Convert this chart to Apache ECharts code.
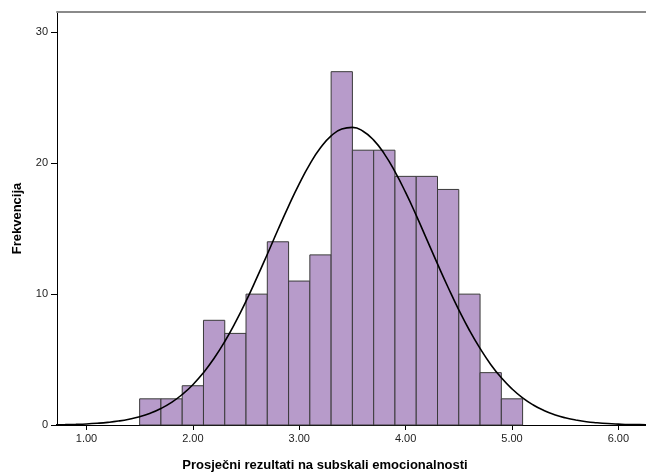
<!DOCTYPE html>
<html><head><meta charset="utf-8">
<script src="https://cdn.jsdelivr.net/npm/echarts@6/dist/echarts.min.js"></script>
<style>html,body{margin:0;padding:0;background:#fff}#c{width:646px;height:474px}</style>
</head><body><div id="c"></div>
<script>
// Histogram bins (left edges, width 0.2) and frequencies
const binStarts = [1.5,1.7,1.9,2.1,2.3,2.5,2.7,2.9,3.1,3.3,3.5,3.7,3.9,4.1,4.3,4.5,4.7,4.9];
const binWidth = 0.2;
const counts = [2,2,3,8,7,10,14,11,13,27,21,21,19,19,18,10,4,2];
// Normal curve (x, frequency)
const curveX = [0.7,0.8,0.9,1.0,1.1,1.2,1.3,1.4,1.5,1.6,1.7,1.8,1.9,2.0,2.1,2.2,2.3,2.4,2.5,2.6,2.7,2.8,2.9,3.0,3.1,3.2,3.3,3.4,3.5,3.6,3.7,3.8,3.9,4.0,4.1,4.2,4.3,4.4,4.5,4.6,4.7,4.8,4.9,5.0,5.1,5.2,5.3,5.4,5.5,5.6,5.7,5.8,5.9,6.0,6.1,6.2,6.3];
const curveY = [0.02,0.03,0.05,0.08,0.13,0.20,0.30,0.44,0.63,0.90,1.26,1.73,2.33,3.08,4.00,5.10,6.38,7.84,9.46,11.22,13.05,14.92,16.73,18.43,19.94,21.18,22.09,22.62,22.74,22.45,21.77,20.72,19.36,17.77,16.02,14.17,12.31,10.51,8.80,7.24,5.85,4.63,3.61,2.76,2.07,1.53,1.11,0.79,0.55,0.38,0.25,0.17,0.11,0.07,0.04,0.03,0.02];
const xTicks = [1,2,3,4,5,6];
const yTicks = [0,10,20,30];

const chart = echarts.init(document.getElementById('c'), null, {renderer:'canvas'});
const font = 'Arial, "Liberation Sans", sans-serif';
chart.setOption({
  animation:false,
  backgroundColor:'#fff',
  grid:{left:57, top:12, right:0, bottom:49, containLabel:false, outerBoundsMode:'none'},
  xAxis:[{
    type:'value', min:0.723, max:6.26,
    name:'Prosječni rezultati na subskali emocionalnosti',
    nameLocation:'middle', nameGap:34,
    nameTextStyle:{fontFamily:font, fontWeight:'bold', fontSize:13, color:'#000', padding:[0,53,0,0]},
    axisLine:{lineStyle:{color:'#000', width:1}},
    axisTick:{show:true, length:5, lineStyle:{color:'#000'}, customValues:xTicks},
    axisLabel:{fontFamily:font, fontSize:11, color:'#222', margin:8, customValues:xTicks, formatter:v=>v.toFixed(2)},
    splitLine:{show:false}
  },{
    type:'value', position:'top', min:0.723, max:6.26,
    axisLine:{show:true, onZero:false, lineStyle:{color:'#8a8a8a', width:2}},
    axisTick:{show:false}, axisLabel:{show:false}, splitLine:{show:false}
  }],
  yAxis:{
    type:'value', min:0, max:31.56,
    name:'Frekvencija', nameLocation:'middle', nameGap:33,
    nameTextStyle:{fontFamily:font, fontWeight:'bold', fontSize:13, color:'#000'},
    axisLine:{show:true, lineStyle:{color:'#000', width:1}},
    axisTick:{show:true, length:6, lineStyle:{color:'#000'}, customValues:yTicks},
    axisLabel:{fontFamily:font, fontSize:11, color:'#222', margin:9, customValues:yTicks},
    splitLine:{show:false}
  },
  series:[{
    type:'custom',
    data: binStarts.map((s,i)=>[s, s+binWidth, counts[i]]),
    renderItem:(params, api)=>{
      const p0 = api.coord([api.value(0), api.value(2)]);
      const p1 = api.coord([api.value(1), 0]);
      return {type:'rect', shape:{x:p0[0], y:p0[1], width:p1[0]-p0[0], height:p1[1]-p0[1]},
        style:{fill:'#b79bca', stroke:'#3a3a3a', lineWidth:1}};
    },
    encode:{x:[0,1], y:2},
    z:2
  },{
    type:'line', smooth:true, symbol:'none', z:3,
    data: curveX.map((x,i)=>[x, curveY[i]]),
    lineStyle:{color:'#000', width:1.6}
  }]
});
</script></body></html>
